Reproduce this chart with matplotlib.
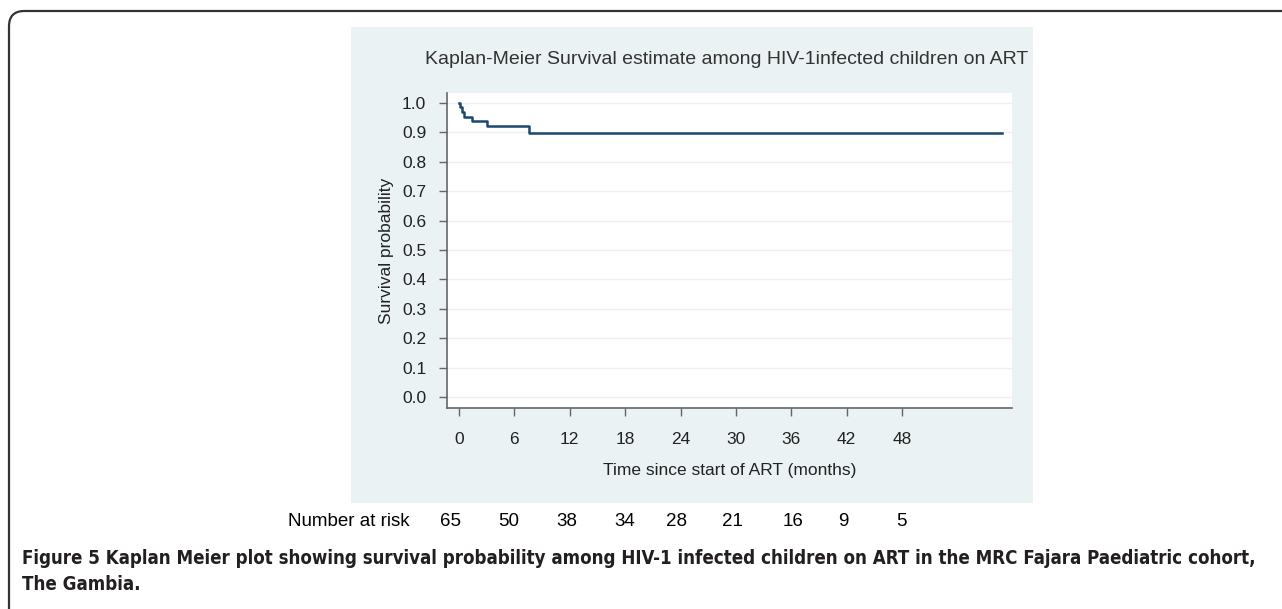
import matplotlib
matplotlib.use("Agg")
import matplotlib.pyplot as plt
import matplotlib.patches as mpatches
import matplotlib.transforms as mtransforms

# Kaplan-Meier estimate
km_time = [0, 0.15, 0.3, 0.5, 1.45, 3.05, 7.6, 58.8]
km_surv = [1.0, 0.985, 0.969, 0.954, 0.938, 0.923, 0.898, 0.898]

x_ticks = [0, 6, 12, 18, 24, 30, 36, 42, 48]
y_ticks = [0.0, 0.1, 0.2, 0.3, 0.4, 0.5, 0.6, 0.7, 0.8, 0.9, 1.0]

risk_n = [65, 50, 38, 34, 28, 21, 16, 9, 5]
risk_x = [-0.9, 5.4, 11.7, 18.0, 23.6, 29.6, 36.2, 41.6, 47.9]

BG = '#EAF2F3'
NAVY = '#1A476F'
TEXT = '#222222'

plt.rcParams['font.family'] = ['Liberation Sans', 'DejaVu Sans']

W, H = 1282, 609
fig = plt.figure(figsize=(W / 100, H / 100), dpi=100)
fig.patch.set_facecolor('white')

# outer frame (only top and left show, rounded corner)
frame = mpatches.FancyBboxPatch((9 / W, -0.1), 1.2, 1 - 11 / H + 0.1,
                                boxstyle="round,pad=0,rounding_size=0.012",
                                transform=fig.transFigure, facecolor='none',
                                edgecolor='#333333', linewidth=1.6,
                                mutation_aspect=W / H, zorder=-2)
fig.patches.append(frame)

# stata graph region
fig.patches.append(mpatches.Rectangle((351 / W, 1 - 503 / H), (1033 - 351) / W, 476 / H,
                                      transform=fig.transFigure,
                                      facecolor=BG, edgecolor='none', zorder=-1))

ax = fig.add_axes([447 / W, 1 - 408 / H, (1012 - 447) / W, (408 - 93) / H])
ax.set_zorder(2)
ax.set_facecolor('white')
ax.step(km_time, km_surv, where='post', color=NAVY, lw=1.8, zorder=3)

ax.set_xlim(-1.3, 59.9)
ax.set_ylim(-0.037, 1.034)
ax.set_xticks(x_ticks)
ax.set_yticks(y_ticks)
ax.set_yticklabels([f"{v:.1f}" for v in y_ticks])
ax.yaxis.grid(True, color=BG, lw=1.0)
ax.set_axisbelow(True)
for s in ['top', 'right']:
    ax.spines[s].set_visible(False)
for s in ['left', 'bottom']:
    ax.spines[s].set_color('#666666')
    ax.spines[s].set_linewidth(1.2)
ax.tick_params(axis='both', direction='out', length=6, width=1.0,
               color='#666666', labelsize=12.5, labelcolor=TEXT)
ax.tick_params(axis='x', pad=11)
ax.tick_params(axis='y', pad=9)
ax.set_xlabel("Time since start of ART (months)", fontsize=12.5, color=TEXT, labelpad=12)
ax.set_ylabel("Survival probability", fontsize=12.5, color=TEXT, labelpad=6)

fig.text(727 / W, 1 - 60 / H,
         "Kaplan-Meier Survival estimate among HIV-1infected children on ART",
         ha='center', va='center', fontsize=14, color='#333333')

# number at risk row
trans = mtransforms.blended_transform_factory(ax.transData, fig.transFigure)
fig.text(410 / W, 1 - 522 / H, "Number at risk", ha='right', va='center',
         fontsize=13.5, color='black')
for n, xv in zip(risk_n, risk_x):
    ax.text(xv, 1 - 522 / H, str(n), transform=trans, ha='center', va='center',
            fontsize=13.5, color='black', clip_on=False)

# caption
fig.text(22 / W, 1 - 558 / H,
         "Figure 5 Kaplan Meier plot showing survival probability among HIV-1 infected "
         "children on ART in the MRC Fajara Paediatric cohort,",
         ha='left', va='center', fontsize=13.4, fontweight='bold',
         family='DejaVu Sans', fontstretch='condensed', color='#231F20')
fig.text(22 / W, 1 - 585 / H, "The Gambia.",
         ha='left', va='center', fontsize=13.4, fontweight='bold',
         family='DejaVu Sans', fontstretch='condensed', color='#231F20')

fig.savefig("out.png", dpi=100)
